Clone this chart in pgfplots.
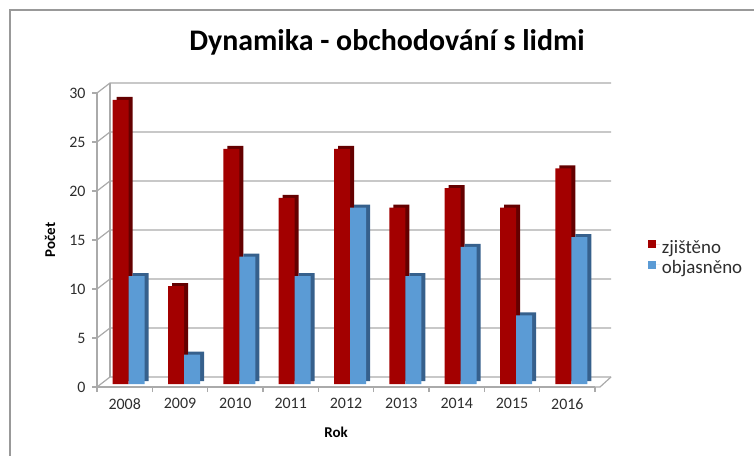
\documentclass[border=0pt]{standalone}
\usepackage{pgfplots}
\pgfplotsset{compat=1.18}
\usepackage{fontspec}
\setmainfont{Carlito}
\definecolor{zred}{RGB}{163,0,0}
\definecolor{zredd}{RGB}{100,0,0}
\definecolor{oblue}{RGB}{91,155,213}
\definecolor{oblued}{RGB}{54,96,140}
\definecolor{gridc}{RGB}{170,170,170}
\definecolor{txt}{RGB}{45,45,45}
\begin{document}
\begin{tikzpicture}
\useasboundingbox (0,0) rectangle (754bp,-456bp);
\begin{scope}[x=1bp,y=-1bp]
\draw[gray!80, line width=1.5bp] (10,456) -- (10,10) -- (754,10);
\foreach \v in {0,5,...,30} {
  \pgfmathsetmacro\yf{387-9.8*\v}
  \pgfmathsetmacro\yb{\yf-10}
  \draw[gridc, line width=1.2bp] (97,\yf) -- (110,\yb) -- (611,\yb);
}
\draw[gridc, line width=1.2bp] (110,377) -- (110,83);
\draw[gridc, line width=1.2bp] (97,387) -- (600,387) -- (611,377);
\node[font=\bfseries\fontsize{30}{36}\selectfont, text=black] at (387,42) {Dynamika - obchodování s lidmi};
\end{scope}
\begin{axis}[
  at={(97bp,-387bp)}, anchor=south west,
  scale only axis, width=498bp, height=294bp,
  xmin=-0.5, xmax=8.5, ymin=0, ymax=30,
  axis x line*=bottom, axis y line*=left,
  axis line style={gridc, line width=1.2bp, -},
  xtick={0,...,8},
  xticklabels={2008,2009,2010,2011,2012,2013,2014,2015,2016},
  minor xtick={-0.5,0.5,...,8.5},
  major x tick style={draw=none},
  minor x tick style={gridc, line width=1.2bp},
  ytick={0,5,...,30},
  y tick style={gridc, line width=1.2bp},
  tick align=outside, major tick length=5bp, minor tick length=5bp,
  tick label style={font=\fontsize{16}{19}\selectfont, text=txt},
  xticklabel style={yshift=-3bp},
  yticklabel style={xshift=-3bp},
  /pgf/number format/assume math mode=true,
  ylabel={Počet},
  ylabel style={at={(axis description cs:-0.094,0.5)}, anchor=center, font=\bfseries\fontsize{15}{18}\selectfont, text=black},
  xlabel={Rok},
  xlabel style={at={(axis description cs:0.48,-0.153)}, anchor=center, font=\bfseries\fontsize{15}{18}\selectfont, text=black},
  legend style={at={(axis description cs:1.1,0.44)}, anchor=west, draw=none, fill=none,
    font=\fontsize{19}{22}\selectfont, text=txt, row sep=2bp},
  legend cell align=left,
  clip=false,
]
\addplot[ybar, bar width=16bp, bar shift=-4bp, fill=zredd, draw=none, xshift=4bp, yshift=6bp, forget plot]
  coordinates {(0,29) (1,10) (2,24) (3,19) (4,24) (5,18) (6,20) (7,18) (8,22)};
\addplot[ybar, bar width=16bp, bar shift=-4bp, fill=zred, draw=none, yshift=3bp,
  legend image code/.code={\fill[zred] (0bp,-4bp) rectangle (8bp,4bp); \path (0bp,0bp) -- (12bp,0bp);}]
  coordinates {(0,29) (1,10) (2,24) (3,19) (4,24) (5,18) (6,20) (7,18) (8,22)};
\addlegendentry{zjištěno}
\addplot[ybar, bar width=16bp, bar shift=12bp, fill=oblued, draw=none, xshift=4bp, yshift=6bp, forget plot]
  coordinates {(0,11) (1,3) (2,13) (3,11) (4,18) (5,11) (6,14) (7,7) (8,15)};
\addplot[ybar, bar width=16bp, bar shift=12bp, fill=oblue, draw=none, yshift=3bp,
  legend image code/.code={\fill[oblue] (0bp,-4bp) rectangle (8bp,4bp); \path (0bp,0bp) -- (12bp,0bp);}]
  coordinates {(0,11) (1,3) (2,13) (3,11) (4,18) (5,11) (6,14) (7,7) (8,15)};
\addlegendentry{objasněno}
\end{axis}
\end{tikzpicture}
\end{document}
